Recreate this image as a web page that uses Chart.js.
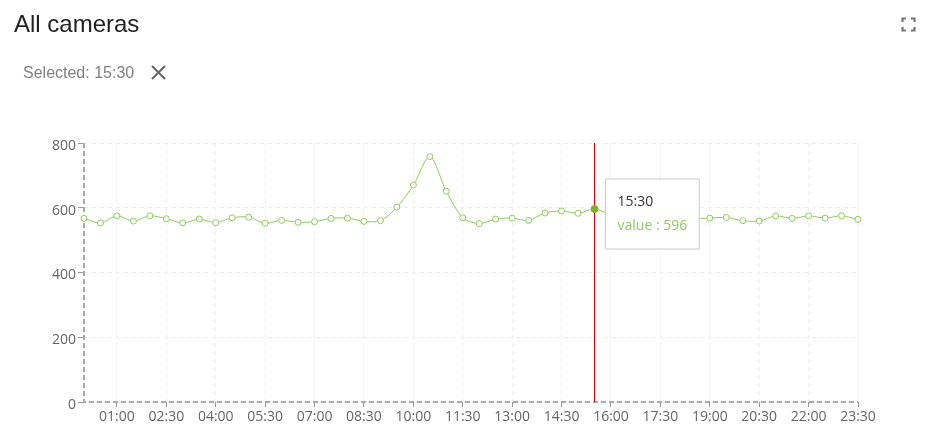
<!DOCTYPE html>
<html>
<head>
<meta charset="utf-8">
<script src="https://cdn.jsdelivr.net/npm/chart.js@4/dist/chart.umd.min.js"></script>
<style>
  html, body { margin: 0; padding: 0; background: #fff; }
  #wrap { position: relative; width: 926px; height: 448px; overflow: hidden; }
  #chart { position: absolute; left: 0; top: 0; }
  .title { position: absolute; left: 14px; top: 12px; font: 24px/24px "Liberation Sans", Arial, sans-serif; color: #222; }
  .selected { position: absolute; left: 23px; top: 65px; font: 16px/16px "Liberation Sans", Arial, sans-serif; color: #808080; }
  .clear { position: absolute; left: 150px; top: 64px; }
  .full { position: absolute; left: 901px; top: 17px; }
</style>
</head>
<body>
<div id="wrap">
  <canvas id="chart" width="926" height="448"></canvas>
  <div class="title">All cameras</div>
  <div class="selected">Selected: 15:30</div>
  <svg class="clear" width="17" height="17"><path d="M2 2 L15 15 M15 2 L2 15" stroke="#666" stroke-width="2" fill="none"/></svg>
  <svg class="full" width="15" height="15">
    <path d="M1.5 5 V1.5 H5 M10 1.5 H13.5 V5 M13.5 10 V13.5 H10 M5 13.5 H1.5 V10" stroke="#777" stroke-width="2.2" fill="none"/>
  </svg>
</div>
<script>
const times = [
  '00:00', '00:30', '01:00', '01:30', '02:00', '02:30', '03:00', '03:30',
  '04:00', '04:30', '05:00', '05:30', '06:00', '06:30', '07:00', '07:30',
  '08:00', '08:30', '09:00', '09:30', '10:00', '10:30', '11:00', '11:30',
  '12:00', '12:30', '13:00', '13:30', '14:00', '14:30', '15:00', '15:30',
  '16:00', '16:30', '17:00', '17:30', '18:00', '18:30', '19:00', '19:30',
  '20:00', '20:30', '21:00', '21:30', '22:00', '22:30', '23:00', '23:30'
];
const values = [
  567, 553, 575, 559, 575, 566, 553, 565,
  554, 569, 571, 552, 561, 555, 557, 567,
  568, 558, 560, 602, 670, 758, 651, 569,
  551, 565, 568, 561, 584, 590, 583, 596,
  578, 572, 566, 570, 562, 566, 568, 570,
  560, 559, 575, 567, 575, 568, 575, 564
];
const tickLabels = ['01:00', '02:30', '04:00', '05:30', '07:00', '08:30', '10:00', '11:30',
  '13:00', '14:30', '16:00', '17:30', '19:00', '20:30', '22:00', '23:30'];
const yTicks = [0, 200, 400, 600, 800];
const selected = '15:30';

const green = '#8ccc5c';

Chart.Tooltip.positioners.pinned = function (items) {
    if (!items.length) return false;
    const el = items[0].element;
    return { x: el.x + 11, y: el.y - 30 };
};

// dashed axes + red marker for the selected slot
const overlay = {
    id: 'overlay',
    beforeDatasetsDraw(chart) {
        const { ctx, chartArea: a, scales: { x } } = chart;
        ctx.save();
        ctx.strokeStyle = '#aaa';
        ctx.lineWidth = 2;
        ctx.setLineDash([5, 3]);
        ctx.beginPath();
        ctx.moveTo(a.left, a.top);
        ctx.lineTo(a.left, a.bottom);
        ctx.lineTo(a.right, a.bottom);
        ctx.stroke();

        const px = Math.floor(x.getPixelForValue(times.indexOf(selected))) + 0.5;
        ctx.setLineDash([]);
        ctx.lineWidth = 1;
        ctx.strokeStyle = '#e00000';
        ctx.beginPath();
        ctx.moveTo(px, a.top);
        ctx.lineTo(px, a.bottom);
        ctx.stroke();
        ctx.restore();
    }
};

Chart.defaults.font.family = '"Open Sans", sans-serif';
Chart.defaults.font.size = 14;
Chart.defaults.color = '#666';

const ctx = document.getElementById('chart').getContext('2d');
const chart = new Chart(ctx, {
    type: 'line',
    data: {
        labels: times,
        datasets: [{
            data: values,
            borderColor: green,
            borderWidth: 1,
            tension: 0.3,
            fill: false,
            clip: false,
            pointRadius: 3,
            pointBorderWidth: 1,
            pointBackgroundColor: '#fff',
            pointBorderColor: green,
            pointHoverRadius: 3.5,
            pointHoverBorderWidth: 1,
            pointHoverBackgroundColor: '#82ad2a',
            pointHoverBorderColor: '#82ad2a'
        }]
    },
    options: {
        responsive: false,
        animation: false,
        events: [],
        layout: { padding: { top: 143, right: 68, left: 0, bottom: 0 } },
        scales: {
            x: {
                offset: false,
                grid: {
                    color: c => (c.index > 0 && tickLabels.includes(times[c.index])) ? '#eeeeee' : 'rgba(0,0,0,0)',
                    tickColor: c => tickLabels.includes(times[c.index]) ? '#999' : 'rgba(0,0,0,0)',
                    tickLength: 5,
                    lineWidth: 1
                },
                border: { display: false, dash: [4, 4] },
                ticks: {
                    autoSkip: false,
                    maxRotation: 0,
                    padding: 2,
                    color: '#666',
                    callback: (v, i) => tickLabels.includes(times[i]) ? times[i] : ''
                },
                afterFit: s => { s.height = 46; }
            },
            y: {
                min: 0,
                max: 800,
                afterBuildTicks: s => { s.ticks = yTicks.map(v => ({ value: v })); },
                grid: {
                    color: c => c.tick && c.tick.value === 0 ? 'rgba(0,0,0,0)' : '#eeeeee',
                    tickColor: '#999',
                    tickLength: 6,
                    lineWidth: 1
                },
                border: { display: false, dash: [4, 4] },
                ticks: { padding: 2, color: '#666', labelOffset: 3 },
                afterFit: s => { s.width = 84; }
            }
        },
        plugins: {
            legend: { display: false },
            tooltip: {
                position: 'pinned',
                xAlign: 'left',
                yAlign: 'top',
                caretSize: 0,
                caretPadding: 0,
                cornerRadius: 0,
                backgroundColor: '#fff',
                borderColor: '#ccc',
                borderWidth: 1,
                displayColors: false,
                padding: { top: 12, bottom: 13, left: 12, right: 12 },
                titleColor: '#333',
                bodyColor: green,
                titleFont: { size: 14, weight: 'normal', lineHeight: 1.5 },
                bodyFont: { size: 14, weight: 'normal', lineHeight: 1.5 },
                titleMarginBottom: 3,
                callbacks: {
                    title: items => times[items[0].dataIndex],
                    label: item => 'value : ' + item.raw
                }
            }
        }
    },
    plugins: [overlay]
});

const idx = times.indexOf(selected);
chart.setActiveElements([{ datasetIndex: 0, index: idx }]);
chart.tooltip.setActiveElements([{ datasetIndex: 0, index: idx }], { x: 0, y: 0 });
chart.update();
</script>
</body>
</html>
